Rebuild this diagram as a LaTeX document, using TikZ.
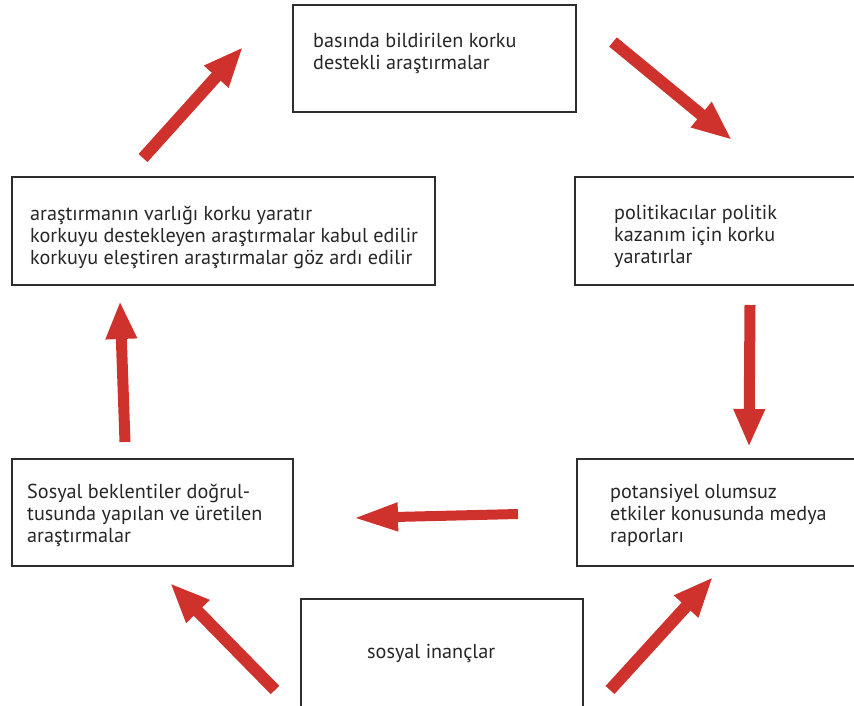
\documentclass[tikz,border=0pt]{standalone}
\usepackage{fontspec}
\setmainfont{PT Sans}
\usetikzlibrary{arrows.meta}
\definecolor{arrowred}{RGB}{207,50,45}
\definecolor{boxline}{RGB}{45,45,45}
\begin{document}
\begin{tikzpicture}[x=1pt,y=-1pt,
  box/.style={draw=boxline,line width=1.5pt},
  label/.style={anchor=north west,align=left,inner sep=0pt,
    font=\fontsize{20.2}{22}\selectfont,text=black!85},
  redarrow/.style={draw=arrowred,line width=12pt,
    -{Triangle[length=40pt,width=30pt]}},
  flatarrow/.style={draw=arrowred,line width=10pt,
    -{Triangle[length=45pt,width=26pt]}}]
\useasboundingbox (0,0) rectangle (854,706);

% boxes
\draw[box] (293,5) rectangle (576,112);
\draw[box] (12,177) rectangle (435,285);
\draw[box] (575,177) rectangle (860,285);
\draw[box] (12,459) rectangle (293,566);
\draw[box] (577,459) rectangle (860,566);
\draw[box] (301,599) rectangle (583,712);

% texts (placed by the top of their first line)
\node[label] (press) at (313,32) {\strut basında bildirilen korku\\destekli araştırmalar};
\node[label] (exist) at (30,205) {\strut araştırmanın varlığı korku yaratır\\korkuyu destekleyen araştırmalar kabul edilir\\korkuyu eleştiren araştırmalar göz ardı edilir};
\node[label] (polit) at (614,204) {\strut politikacılar politik\\kazanım için korku\\yaratırlar};
\node[label] (social) at (27,483) {\strut Sosyal beklentiler doğrul-\\tusunda yapılan ve üretilen\\araştırmalar};
\node[label] (media) at (610,483) {\strut potansiyel olumsuz\\etkiler konusunda medya\\raporları};
\node[label] (belief) at (367,643) {\strut sosyal inançlar};

% arrow end points
\coordinate (a1s) at (143,158); \coordinate (a1e) at (243,47);
\coordinate (a2s) at (613,42);  \coordinate (a2e) at (732,140);
\coordinate (a3s) at (750,305); \coordinate (a3e) at (749,447);
\coordinate (a4s) at (518,514); \coordinate (a4e) at (353,518);
\coordinate (a5s) at (125,442); \coordinate (a5e) at (120,301);
\coordinate (a6s) at (275,690); \coordinate (a6e) at (170,583);
\coordinate (a7s) at (610,690); \coordinate (a7e) at (713,577);

% arrows
\draw[redarrow] (a1s) -- (a1e);
\draw[redarrow] (a2s) -- (a2e);
\draw[redarrow,line width=11pt,-{Triangle[length=38pt,width=29pt]}] (a3s) -- (a3e);
\draw[flatarrow] (a4s) -- (a4e);
\draw[redarrow,line width=11pt,-{Triangle[length=38pt,width=29pt]}] (a5s) -- (a5e);
\draw[redarrow] (a6s) -- (a6e);
\draw[redarrow] (a7s) -- (a7e);
\end{tikzpicture}
\end{document}
